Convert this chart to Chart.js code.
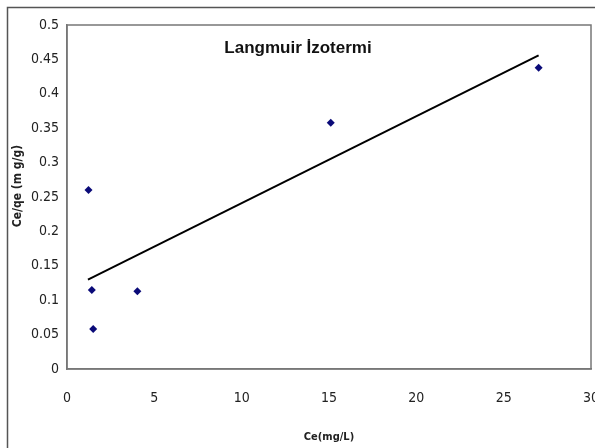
<!DOCTYPE html>
<html><head><meta charset="utf-8">
<script src="https://cdn.jsdelivr.net/npm/chart.js@4/dist/chart.umd.min.js"></script>
<style>html,body{margin:0;padding:0;background:#fff;}#wrap{width:595px;height:448px;}</style>
</head><body><div id="wrap"><canvas id="c" width="595" height="448"></canvas></div>
<script>
const ceValues = [1.23, 1.42, 1.5, 4.03, 15.1, 27.0];
const ceQeValues = [0.26, 0.115, 0.058, 0.113, 0.358, 0.438];
const trendX = [1.2, 27.0];
const trendY = [0.13, 0.456];
const xTicks = [0, 5, 10, 15, 20, 25, 30];
const yTicks = [0, 0.05, 0.1, 0.15, 0.2, 0.25, 0.3, 0.35, 0.4, 0.45, 0.5];
const chartTitle = 'Langmuir İzotermi';
const xTitle = 'Ce(mg/L)';
const yTitle = 'Ce/qe (m g/g)';

const FAM = '"DejaVu Sans Condensed", "Liberation Sans Narrow", "Liberation Sans", Arial, sans-serif';

const frame = {
  id: 'frame',
  beforeDraw(chart) {
    const ctx = chart.ctx;
    ctx.save();
    ctx.fillStyle = '#fff';
    ctx.fillRect(0, 0, chart.width, chart.height);
    ctx.strokeStyle = '#555';
    ctx.lineWidth = 1.5;
    ctx.strokeRect(7.5, 7.5, 640, 520);
    ctx.restore();
  },
  afterDraw(chart) {
    const a = chart.chartArea, ctx = chart.ctx;
    ctx.save();
    ctx.strokeStyle = '#777';
    ctx.lineWidth = 1.5;
    ctx.strokeRect(a.left, a.top, a.right - a.left, a.bottom - a.top);
    ctx.fillStyle = '#111';
    ctx.font = 'bold 17px "Liberation Sans", Arial, sans-serif';
    ctx.textAlign = 'center';
    ctx.textBaseline = 'middle';
    ctx.fillText(chartTitle, 298, 48);
    ctx.fillStyle = '#222';
    ctx.font = 'bold 12px ' + FAM;
    ctx.translate(18, 186);
    ctx.rotate(-Math.PI / 2);
    ctx.fillText(yTitle, 0, 0);
    ctx.restore();
  }
};

new Chart(document.getElementById('c'), {
  type: 'scatter',
  data: {
    datasets: [
      {
        data: ceValues.map((x, i) => ({x, y: ceQeValues[i]})),
        pointStyle: 'rectRot', pointRadius: 4, pointHoverRadius: 4,
        backgroundColor: '#0a0a78', borderColor: '#0a0a78', borderWidth: 0
      },
      {
        type: 'line',
        data: trendX.map((x, i) => ({x, y: trendY[i]})),
        borderColor: '#000', borderWidth: 2, pointRadius: 0, fill: false
      }
    ]
  },
  options: {
    responsive: false, animation: false,
    layout: {padding: {top: 25, right: 3, left: 0, bottom: 0}},
    plugins: {legend: {display: false}, tooltip: {enabled: false}},
    scales: {
      x: {
        type: 'linear', min: 0, max: 30,
        afterBuildTicks(s) { s.ticks = xTicks.map(v => ({value: v})); },
        afterFit(s) { s.height = 79; s.paddingLeft = 0; s.paddingRight = 0; },
        grid: {display: false, drawTicks: true, tickLength: 5, color: '#777'},
        border: {display: true, color: '#777', width: 1.5},
        ticks: {color: '#222', padding: 16, maxRotation: 0,
          callback: v => String(v),
          font: {family: FAM, size: 14}},
        title: {display: true, text: xTitle, color: '#222', padding: {top: 6},
          font: {family: FAM, size: 11, weight: 'bold'}}
      },
      y: {
        type: 'linear', min: 0, max: 0.5,
        afterBuildTicks(s) { s.ticks = yTicks.map(v => ({value: v})); },
        afterFit(s) { s.width = 67; s.paddingTop = 0; s.paddingBottom = 0; },
        grid: {display: false, drawTicks: true, tickLength: 4, color: '#777'},
        border: {display: true, color: '#777', width: 1.5},
        ticks: {color: '#222', padding: 4,
          callback: v => String(v),
          font: {family: FAM, size: 14}},
        title: {display: false}
      }
    }
  },
  plugins: [frame]
});
</script></body></html>
